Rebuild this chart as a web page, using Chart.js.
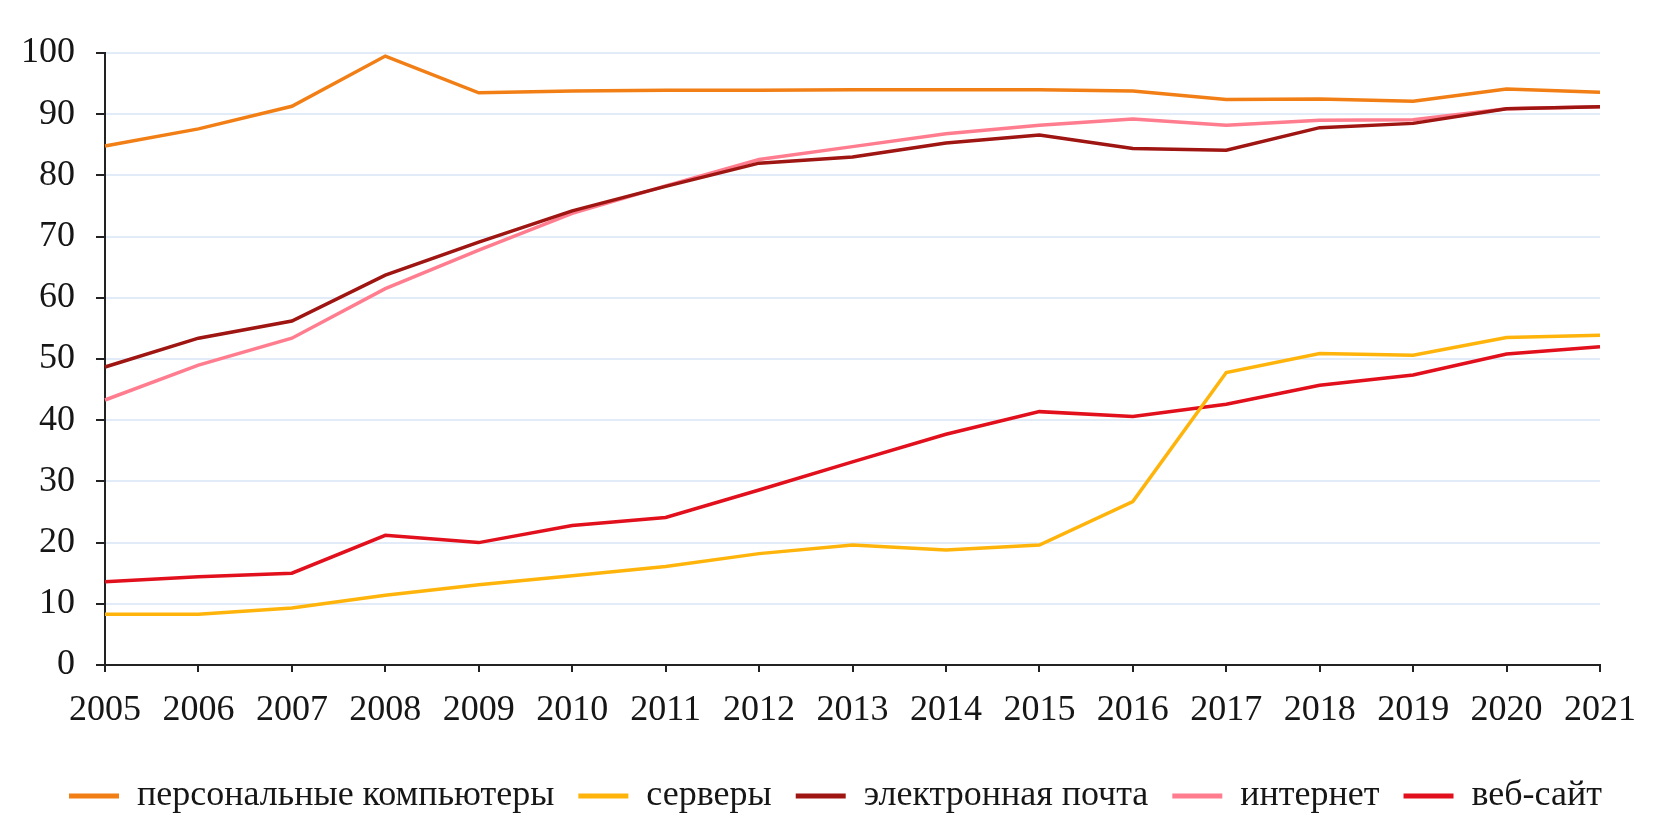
<!DOCTYPE html>
<html>
<head>
<meta charset="utf-8">
<script src="https://cdn.jsdelivr.net/npm/chart.js@4"></script>
<style>
html,body{margin:0;padding:0;background:#fff;overflow:hidden;}
#wrap{width:1671px;height:813px;position:relative;}
</style>
</head>
<body>
<div id="wrap"><canvas id="c"></canvas></div>
<script>
const years = ['2005','2006','2007','2008','2009','2010','2011','2012','2013','2014','2015','2016','2017','2018','2019','2020','2021'];
const seriesNames = ['персональные компьютеры','серверы','электронная почта','интернет','веб-сайт'];
const pcs      = [84.8, 87.6, 91.3, 99.5, 93.5, 93.8, 93.9, 93.9, 94.0, 94.0, 94.0, 93.8, 92.4, 92.5, 92.1, 94.1, 93.6];
const servers  = [8.3, 8.3, 9.3, 11.4, 13.1, 14.6, 16.1, 18.2, 19.6, 18.8, 19.6, 26.7, 47.8, 50.9, 50.6, 53.5, 53.9];
const email    = [48.7, 53.4, 56.2, 63.7, 69.1, 74.2, 78.2, 82.0, 83.0, 85.3, 86.6, 84.4, 84.1, 87.8, 88.5, 90.9, 91.2];
const internet = [43.3, 49.0, 53.4, 61.5, 67.8, 73.8, 78.3, 82.6, 84.7, 86.8, 88.2, 89.2, 88.2, 89.0, 89.1, 90.9, 91.2];
const website  = [13.6, 14.4, 15.0, 21.2, 20.0, 22.8, 24.1, 28.6, 33.2, 37.7, 41.4, 40.6, 42.6, 45.7, 47.4, 50.8, 52.0];
const yTicks = [0,10,20,30,40,50,60,70,80,90,100];

const colors = ['#F27F16','#FFB40C','#9E1512','#FF7D8E','#E2101C'];
const values = [pcs, servers, email, internet, website];
const FONT = '"Liberation Serif","Times New Roman",serif';
const TXT = '#161616';

new Chart(document.getElementById('c'), {
  type: 'line',
  data: {
    labels: years,
    datasets: seriesNames.map((n,i)=>({
      label: n,
      data: values[i],
      borderColor: colors[i],
      backgroundColor: colors[i],
      borderWidth: 3.5,
      pointRadius: 0,
      tension: 0,
      fill: false,
      yAxisID: 'y'
    }))
  },
  options: {
    responsive: true,
    maintainAspectRatio: false,
    animation: false,
    layout: { padding: { top: 53, left: 0, right: 0, bottom: -11 } },
    plugins: {
      tooltip: { enabled: false },
      legend: {
        position: 'bottom',
        labels: {
          usePointStyle: true,
          pointStyle: 'line',
          pointStyleWidth: 50,
          boxHeight: 36,
          padding: 24,
          color: TXT,
          font: { family: FONT, size: 36 },
          generateLabels: chart => {
            const items = Chart.defaults.plugins.legend.labels.generateLabels(chart);
            items.forEach(it => { it.lineWidth = 5; });
            return items;
          }
        }
      }
    },
    scales: {
      x: {
        offset: false,
        grid: { display: true, drawOnChartArea: false, tickLength: 7, tickColor: '#222', lineWidth: 2 },
        border: { display: true, color: '#222', width: 2 },
        ticks: { autoSkip: false, maxRotation: 0, minRotation: 0, padding: 17, color: TXT, font: { family: FONT, size: 36 } },
        afterFit: s => { s.height = 89; }
      },
      y: {
        min: 0, max: 100,
        afterBuildTicks: s => { s.ticks = yTicks.map(v => ({ value: v })); },
        grid: { color: '#e2ebf8', lineWidth: 2, tickLength: 9, tickColor: '#222' },
        border: { display: true, color: '#222', width: 2 },
        ticks: { padding: 21, color: TXT, font: { family: FONT, size: 36 } },
        afterFit: s => { s.width = 105; }
      },
      yr: {
        position: 'right',
        display: true,
        min: 0, max: 100,
        grid: { display: false, drawOnChartArea: false },
        border: { display: false },
        ticks: { display: false },
        afterFit: s => { s.width = 71; }
      }
    }
  }
});
</script>
</body>
</html>
